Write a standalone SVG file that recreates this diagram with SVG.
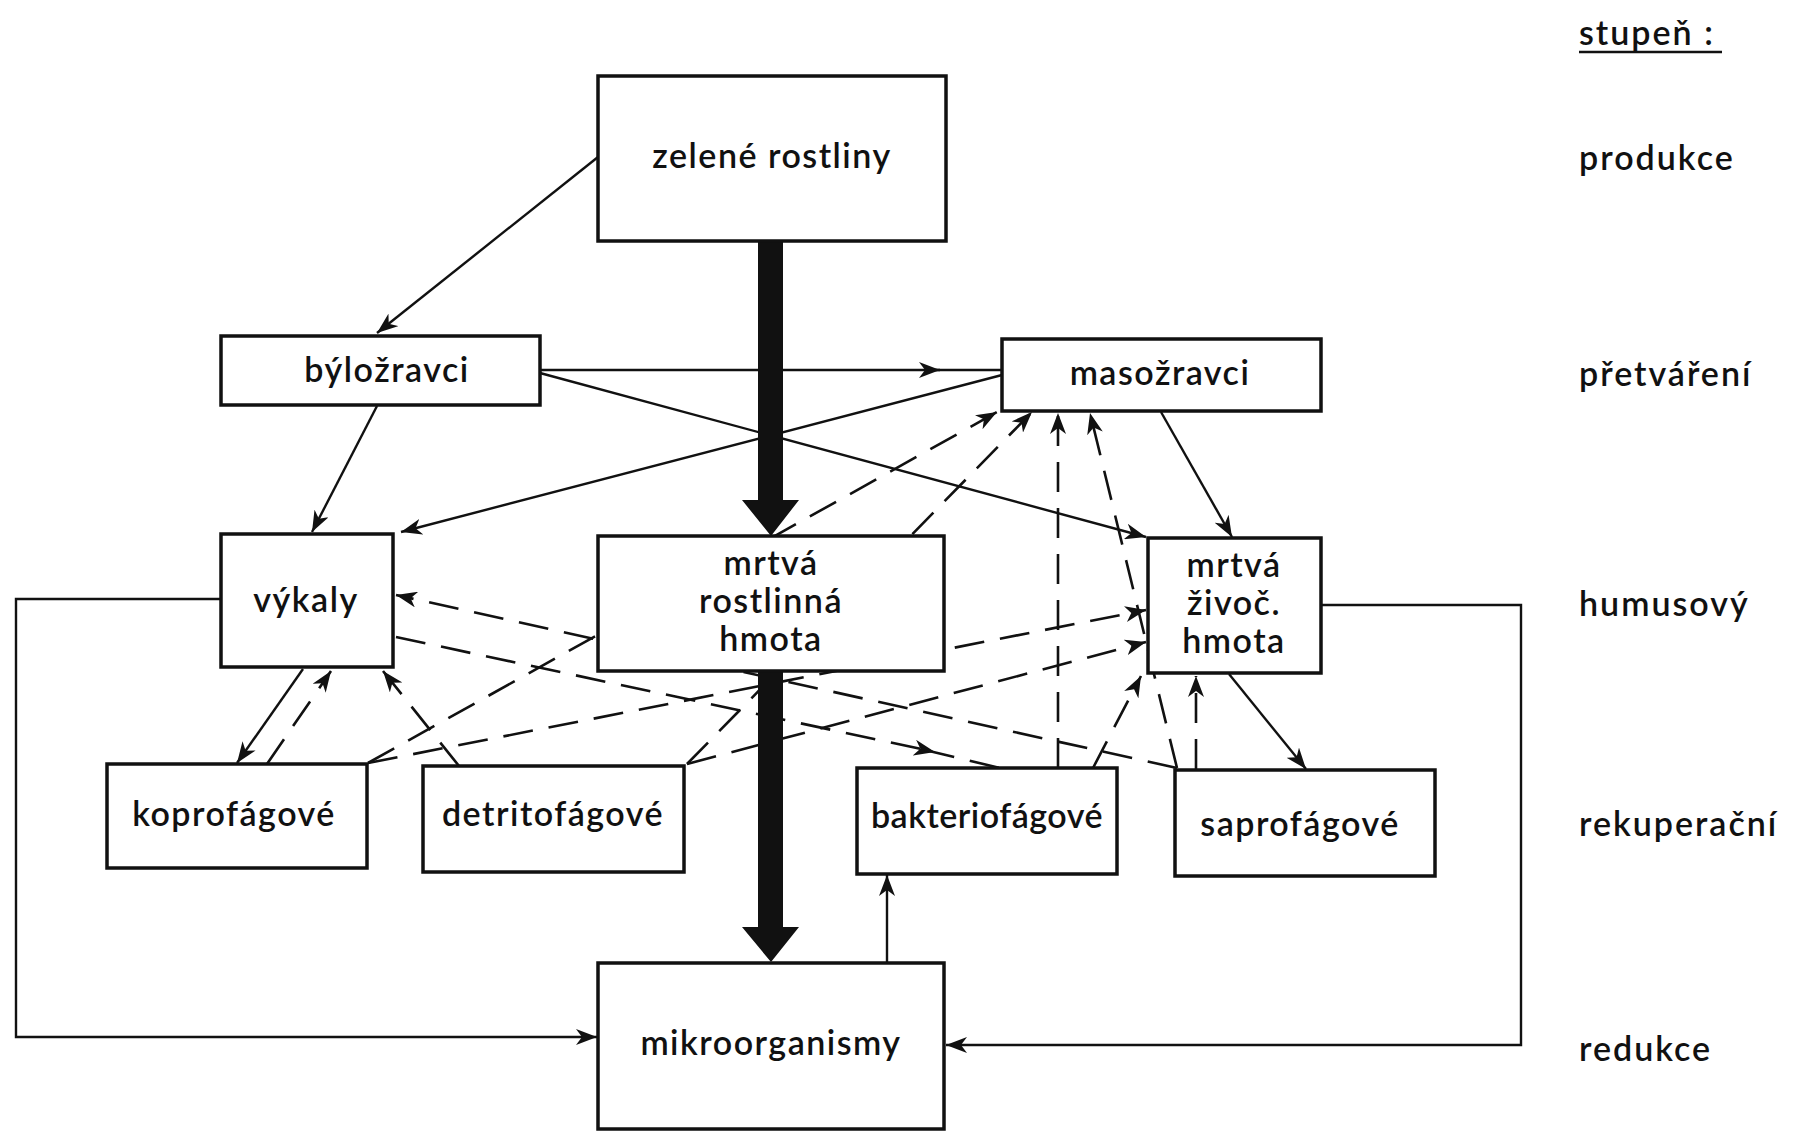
<svg xmlns="http://www.w3.org/2000/svg" width="1811" height="1131" viewBox="0 0 1811 1131">
<style>
.box{fill:#fff;stroke:#111;stroke-width:3.5}
.t{font-family:Lato,"Open Sans","Liberation Sans",sans-serif;font-size:34px;font-weight:600;fill:#111;text-anchor:middle;letter-spacing:1.5px}
.lab{font-family:Lato,"Open Sans","Liberation Sans",sans-serif;font-size:34px;font-weight:600;fill:#111;letter-spacing:2px}
.s{fill:none;stroke:#111;stroke-width:2.4}
.d{fill:none;stroke:#111;stroke-width:2.6;stroke-dasharray:30 16}
.a{marker-end:url(#ah)}
</style>
<defs>
<marker id="ah" markerUnits="userSpaceOnUse" markerWidth="24" markerHeight="16" refX="21" refY="8" orient="auto">
<path d="M0,0 L21,8 L0,16 L6,8 z" fill="#111"/>
</marker>
</defs>
<rect width="1811" height="1131" fill="#fff"/>
<g id="connectors">
<path class="s a" d="M598,157 L377,333"/>
<path class="s a" d="M540,370 L940,370"/>
<path class="s" d="M930,370 L1002,370"/>
<path class="s a" d="M377,406 L312,532"/>
<path class="s a" d="M1002,375 L401,532"/>
<path class="s a" d="M540,373 L1146,537"/>
<path class="s a" d="M1161,412 L1232,537"/>
<path class="s a" d="M303,669 L237,763"/>
<path class="s a" d="M1229,674 L1306,769"/>
<path class="s a" d="M887,963 L887,875"/>
<path class="s a" d="M221,599 L16,599 L16,1037 L597,1037"/>
<path class="s a" d="M1322,605 L1521,605 L1521,1045 L946,1045"/>
<path class="d a" d="M267,764 L331,671"/>
<path class="d a" d="M459,766 L383,671"/>
<path class="d a" d="M1177,768 L396,595"/>
<path class="d a" d="M396,637 L935,752"/>
<path class="d" d="M925,750 L1000,768"/>
<path class="d a" d="M368,763 L997,412"/>
<path class="d a" d="M687,764 L1032,412"/>
<path class="d a" d="M1058,768 L1058,413"/>
<path class="d a" d="M1177,768 L1090,413"/>
<path class="d a" d="M368,763 L1146,610"/>
<path class="d a" d="M687,764 L1146,642"/>
<path class="d a" d="M1093,768 L1141,676"/>
<path class="d a" d="M1196,769 L1196,676"/>
<polygon points="758,241 783,241 783,500 799,500 771,536 742,500 758,500" fill="#111"/>
<polygon points="758,671 783,671 783,927 799,927 771,962 742,927 758,927" fill="#111"/>
</g>
<g id="zelene-rostliny"><rect class="box" x="598" y="76" width="348" height="165"/><text class="t" x="772" y="168">zelené rostliny</text></g>
<g id="bylozravci"><rect class="box" x="221" y="336" width="319" height="69"/><text class="t" x="387" y="382">býložravci</text></g>
<g id="masozravci"><rect class="box" x="1002" y="339" width="319" height="72"/><text class="t" x="1160" y="385">masožravci</text></g>
<g id="vykaly"><rect class="box" x="221" y="534" width="172" height="133"/><text class="t" x="306" y="612">výkaly</text></g>
<g id="mrtva-rostlinna-hmota"><rect class="box" x="598" y="536" width="346" height="135"/><text class="t" x="771" y="575">mrtvá</text><text class="t" x="771" y="613">rostlinná</text><text class="t" x="771" y="651">hmota</text></g>
<g id="mrtva-zivocisna-hmota"><rect class="box" x="1148" y="538" width="173" height="135"/><text class="t" x="1234" y="577">mrtvá</text><text class="t" x="1234" y="615">živoč.</text><text class="t" x="1234" y="653">hmota</text></g>
<g id="koprofagove"><rect class="box" x="107" y="764" width="260" height="104"/><text class="t" x="234" y="826">koprofágové</text></g>
<g id="detritofagove"><rect class="box" x="423" y="766" width="261" height="106"/><text class="t" x="553" y="826">detritofágové</text></g>
<g id="bakteriofagove"><rect class="box" x="857" y="768" width="260" height="106"/><text class="t" x="987" y="828" style="letter-spacing:0.5px">bakteriofágové</text></g>
<g id="saprofagove"><rect class="box" x="1175" y="770" width="260" height="106"/><text class="t" x="1300" y="836">saprofágové</text></g>
<g id="mikroorganismy"><rect class="box" x="598" y="963" width="346" height="166"/><text class="t" x="771" y="1055">mikroorganismy</text></g>
<g id="stupne">
<text class="lab" x="1579" y="45">stupeň :</text>
<line x1="1579" y1="52" x2="1722" y2="52" stroke="#111" stroke-width="2.4"/>
<text class="lab" x="1579" y="170">produkce</text>
<text class="lab" x="1579" y="386">přetváření</text>
<text class="lab" x="1579" y="616">humusový</text>
<text class="lab" x="1579" y="836">rekuperační</text>
<text class="lab" x="1579" y="1061">redukce</text>
</g>
</svg>
